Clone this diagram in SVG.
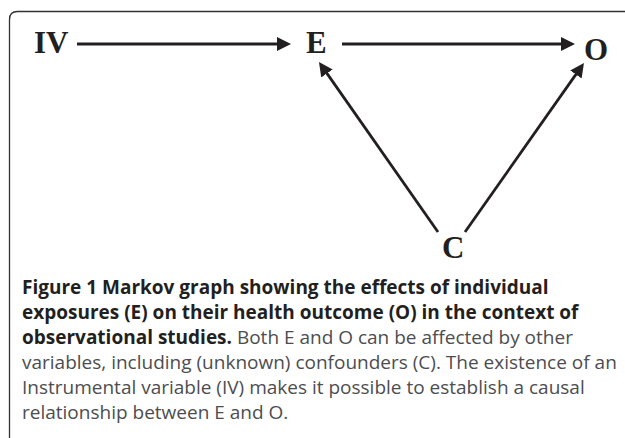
<svg xmlns="http://www.w3.org/2000/svg" width="625" height="438" viewBox="0 0 625 438">
<style>
.frame{fill:none;stroke:#333;stroke-width:1.3}
.node{font-family:"Liberation Serif","Times New Roman",serif;font-weight:bold;font-size:31px;fill:#231f20}
.edge{stroke:#231f20;stroke-width:2.8;fill:none;marker-end:url(#ah)}
.cap{font-family:"Open Sans","Noto Sans",sans-serif;font-size:19px;fill:#4d4d4f}
.b{font-weight:bold;fill:#231f20}
</style>
<defs>
<marker id="ah" markerUnits="userSpaceOnUse" markerWidth="16" markerHeight="16" refX="8" refY="7" orient="auto">
<path d="M0,0 L14,7 L0,14 z" fill="#231f20"/>
</marker>
</defs>
<path class="frame" d="M9.5,438 V19.5 Q9.5,11.5 17.5,11.5 H625"/>
<g id="connectors">
<line class="edge" x1="77" y1="44" x2="285" y2="44"/>
<line class="edge" x1="342" y1="44" x2="569" y2="44"/>
<line class="edge" x1="438" y1="232" x2="322.4" y2="66.9"/>
<line class="edge" x1="465" y1="232" x2="580.5" y2="67.9"/>
</g>
<g id="IV"><text class="node" x="34" y="53">IV</text></g>
<g id="E"><text class="node" x="306" y="53">E</text></g>
<g id="O"><text class="node" x="584" y="60">O</text></g>
<g id="C"><text class="node" x="442" y="258">C</text></g>
<g id="caption">
<text class="cap b" x="22" y="294">Figure 1 Markov graph showing the effects of individual</text>
<text class="cap b" x="22" y="319">exposures (E) on their health outcome (O) in the context of</text>
<text class="cap" x="22" y="344"><tspan class="b">observational studies.</tspan> Both E and O can be affected by other</text>
<text class="cap" x="22" y="369">variables, including (unknown) confounders (C). The existence of an</text>
<text class="cap" x="22" y="394">Instrumental variable (IV) makes it possible to establish a causal</text>
<text class="cap" x="22" y="419">relationship between E and O.</text>
</g>
</svg>
